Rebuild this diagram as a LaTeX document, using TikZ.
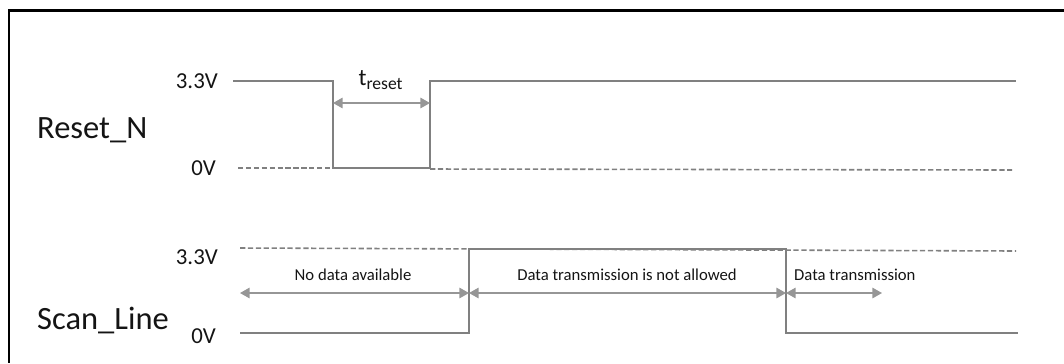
\documentclass[tikz,border=0pt]{standalone}
\usepackage{fontspec}
\setmainfont{Carlito}
\usetikzlibrary{arrows.meta}

\definecolor{wavegray}{RGB}{128,128,128}
\definecolor{dimgray}{RGB}{150,150,150}
\definecolor{textgray}{RGB}{20,20,20}

\tikzset{
  wave/.style={draw=wavegray, line width=1.1pt},
  level/.style={draw=wavegray, line width=0.9pt, dash pattern=on 3pt off 1.5pt},
  dimline/.style={draw=dimgray, line width=0.8pt, {Triangle[length=5.5pt,width=6pt]}-{Triangle[length=5.5pt,width=6pt]}},
  volt/.style={anchor=east, text=textgray, font=\fontsize{13}{15}\selectfont},
  signame/.style={anchor=west, text=textgray, font=\fontsize{18.5}{20}\selectfont},
  phase/.style={text=textgray, font=\fontsize{9.5}{11}\selectfont}
}

\begin{document}
\begin{tikzpicture}[x=0.02cm, y=-0.02cm]
    \useasboundingbox (0,0) rectangle (1064,363);
    % frame
    \draw[line width=1.7pt, black] (1064,10) -- (9,10) -- (9,363);

    % Reset_N
    \node[signame] (resetname) at (31,130) {Reset\_N};
    \node[volt] (rhigh) at (224,81) {3.3V};
    \node[volt] (rlow) at (222,168) {0V};
    \coordinate (rfall) at (333,81);
    \coordinate (rrise) at (430,81);
    \draw[level] (238,168) -- (rfall |- 0,168);
    \draw[level] (rrise |- 0,169) -- (1012,170);
    \draw[wave]
      (233,81) -- (rfall) -- (333,168) -- (430,168) -- (rrise) -- (1016,81)
    ;
    \coordinate (tra) at (333,103);
    \coordinate (trb) at (430,103);
    \draw[dimline] (tra) -- (trb);
    \node[text=textgray, font=\fontsize{13.5}{15}\selectfont] (treset) at (381,80)
      {t\textsubscript{\fontsize{10}{12}\selectfont reset}};

    % Scan_Line
    \node[signame] (scanname) at (31,320) {Scan\_Line};
    \node[volt] (shigh) at (224,257) {3.3V};
    \node[volt] (slow) at (222,336) {0V};
    \draw[level] (240,248) -- (1016,251);
    \draw[wave]
      (240,333) -- (469,333) -- (469,249) -- (786,249) -- (786,333) -- (1018,333)
    ;
    \coordinate (pa) at (240,293);
    \coordinate (pb) at (469,293);
    \coordinate (pc) at (786,293);
    \coordinate (pd) at (882,293);
    \draw[dimline] (pa) -- (pb);
    \draw[dimline] (pb) -- (pc);
    \draw[dimline] (pc) -- (pd);
    \node[phase] (nodata) at (353,275) {No data available};
    \node[phase] (notallowed) at (627,275) {Data transmission is not allowed};
    \node[phase, anchor=west] (allowed) at (788,275) {Data transmission};
\end{tikzpicture}
\end{document}
